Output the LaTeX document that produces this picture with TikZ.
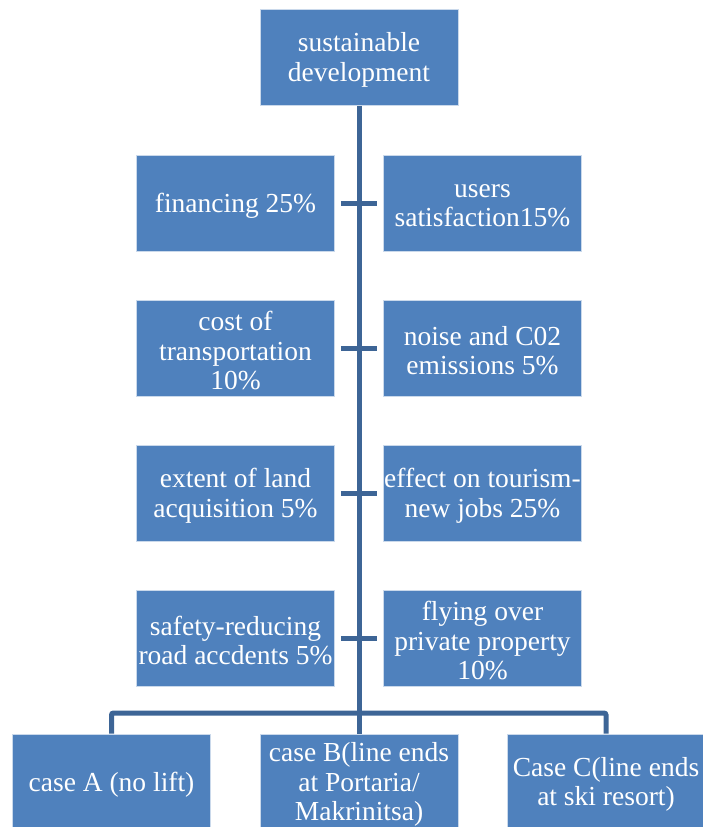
\documentclass[tikz,border=0pt]{standalone}
\usepackage{fontspec}
\setmainfont{Liberation Serif}
\definecolor{boxblue}{HTML}{4F81BD}
\definecolor{lineblue}{HTML}{3D6596}
\newcommand\mybox[3]{%
  \node[box] (#1) at (#2) {};
  \node[txt] (#1t) at ([yshift=-2.5pt]#1.center) {#3};}
\begin{document}
\begin{tikzpicture}[x=1pt,y=-1pt,
  box/.style={draw=white!70!boxblue, line width=0.8pt, fill=boxblue, minimum width=198pt, minimum height=96pt, inner sep=0pt},
  txt/.style={text=white, inner sep=0pt, align=center, font=\fontsize{27.5}{29.5}\selectfont},
  conn/.style={draw=lineblue, line width=5pt},
]
\useasboundingbox (0,0) rectangle (702,827);
\mybox{top}{359,57.5}{sustainable\\development}
\mybox{l1}{235.5,203}{financing 25\%}
\mybox{r1}{482.5,203}{users\\satisfaction15\%}
\mybox{l2}{235.5,348}{cost of\\transportation\\10\%}
\mybox{r2}{482.5,348}{noise and C02\\emissions 5\%}
\mybox{l3}{235.5,493}{extent of land\\acquisition 5\%}
\mybox{r3}{482.5,493}{effect on tourism-\\new jobs 25\%}
\mybox{l4}{235.5,638}{safety-reducing\\road accdents 5\%}
\mybox{r4}{482.5,638}{flying over\\private property\\10\%}
\mybox{ca}{111.5,782}{case A (no lift)}
\mybox{cb}{359,782}{case B(line ends\\at Portaria/\\Makrinitsa)}
\mybox{cc}{606,782}{Case C(line ends\\at ski resort)}
\coordinate (bar) at (359,713);
\draw[conn] (top.south) -- (cb.north);
\foreach \i in {1,2,3,4}{
  \draw[conn] ([xshift=6pt]l\i.east) -- ([xshift=-6pt]r\i.west);
}
\draw[conn, rounded corners=2pt] (ca.north) -- (ca.north |- bar) -- (cc.north |- bar) -- (cc.north);
\end{tikzpicture}
\end{document}
